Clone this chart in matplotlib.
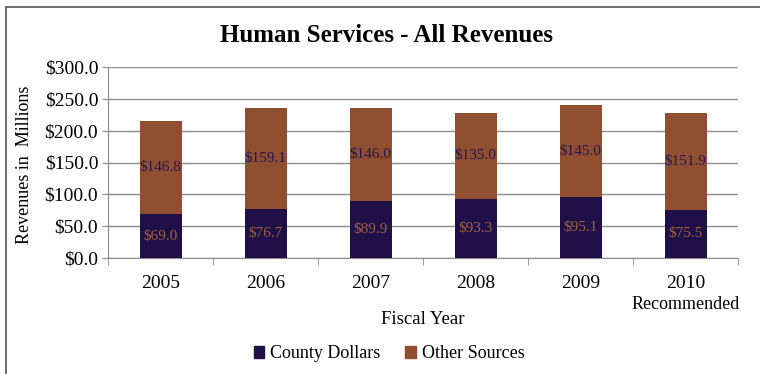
import matplotlib
matplotlib.use("Agg")
import matplotlib.pyplot as plt
from matplotlib.patches import Rectangle
import numpy as np

years = ["2005", "2006", "2007", "2008", "2009", "2010"]
county = [69.0, 76.7, 89.9, 93.3, 95.1, 75.5]
other = [146.8, 159.1, 146.0, 135.0, 145.0, 151.9]
yticks = [0, 50, 100, 150, 200, 250, 300]

navy = "#1f1148"
brown = "#8f4f30"

plt.rcParams["font.family"] = ["Liberation Serif", "DejaVu Serif"]

fig = plt.figure(figsize=(7.6, 3.74), dpi=100)
W, H = 760, 374
ax = fig.add_axes([108 / W, 1 - 258 / H, (738 - 108) / W, (258 - 67) / H])

x = np.arange(len(years))
ax.bar(x, county, width=0.4, color=navy, zorder=3)
ax.bar(x, other, width=0.4, bottom=county, color=brown, zorder=3)

for i in range(len(years)):
    ax.text(x[i], county[i] / 2, f"${county[i]:.1f}", ha="center", va="center",
            fontsize=11, color="#a0603e", zorder=4)
    ax.text(x[i], county[i] + other[i] / 2, f"${other[i]:.1f}", ha="center",
            va="center", fontsize=11, color="#2a1650", zorder=4)

ax.set_xlim(-0.5, len(years) - 0.5)
ax.set_ylim(0, 300)
ax.set_yticks(yticks)
ax.set_yticklabels([f"${v:.1f}" for v in yticks], fontsize=14)
ax.yaxis.grid(True, color="#8c8c8c", lw=1, zorder=0)

ax.set_xticks(x)
ax.set_xticklabels(years, fontsize=14)
ax.tick_params(axis="x", length=0, pad=12)
ax.tick_params(axis="y", length=4, color="#8c8c8c", pad=3)
ax.set_xticks(np.arange(len(years) + 1) - 0.5, minor=True)
ax.tick_params(axis="x", which="minor", length=5, color="#8c8c8c", direction="out")
ax.text(x[-1], -0.245, "Recommended", transform=ax.get_xaxis_transform(),
        ha="center", va="center", fontsize=13)

for s in ["top", "right"]:
    ax.spines[s].set_visible(False)
ax.spines["left"].set_color("#8c8c8c")
ax.spines["bottom"].set_color("#8c8c8c")

fig.text(25 / W, 1 - 165 / H, "Revenues in  Millions", rotation=90,
         ha="center", va="center", fontsize=13)
fig.text((108 + 738) / 2 / W, 1 - 320 / H, "Fiscal Year", ha="center",
         va="center", fontsize=13.5)
fig.text(386 / W, 1 - 36 / H, "Human Services - All Revenues",
         ha="center", va="center", fontsize=18, fontweight="bold")

handles = [Rectangle((0, 0), 1, 1, color=navy), Rectangle((0, 0), 1, 1, color=brown)]
fig.legend(handles, ["County Dollars", "Other Sources"], loc="center",
           bbox_to_anchor=(389 / W, 1 - 354 / H), ncol=2, frameon=False,
           fontsize=13, handlelength=0.6, handleheight=0.6, handletextpad=0.3,
           columnspacing=1.4)

fig.patches.append(Rectangle((6 / W, -0.05), 1.0, 1 - 7 / H + 0.05,
                             transform=fig.transFigure, fill=False,
                             edgecolor="#555555", lw=1.2))

fig.savefig("out.png", dpi=100)
